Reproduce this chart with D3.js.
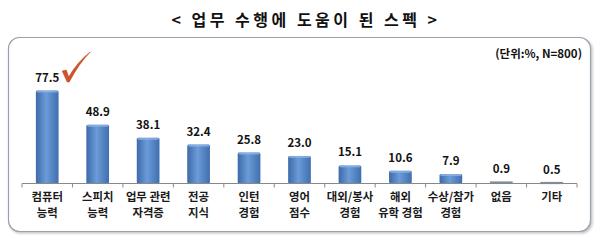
<!DOCTYPE html>
<html><head><meta charset="utf-8">
<script src="https://cdn.jsdelivr.net/npm/d3@7"></script>
<style>body{margin:0;background:#fff;}svg{display:block;}</style>
</head><body>
<svg id="c" width="600" height="244"></svg>
<script>
const categories = [["컴퓨터","능력"],["스피치","능력"],["업무 관련","자격증"],["전공","지식"],["인턴","경험"],["영어","점수"],["대외/봉사","경험"],["해외","유학 경험"],["수상/참가","경험"],["없음"],["기타"]];
const values = [77.5,48.9,38.1,32.4,25.8,23.0,15.1,10.6,7.9,0.9,0.5];
const title = "< 업무 수행에 도움이 된 스펙 >";
const unitNote = "(단위:%, N=800)";

const svg = d3.select("#c");
const font = "'Noto Sans CJK KR','Noto Sans',sans-serif";
const defs = svg.append("defs");
const g1 = defs.append("linearGradient").attr("id","barG").attr("x1","0").attr("x2","1").attr("y1","0").attr("y2","0");
g1.append("stop").attr("offset","0").attr("stop-color","#3d6aa8");
g1.append("stop").attr("offset","0.45").attr("stop-color","#6b9bd8");
g1.append("stop").attr("offset","1").attr("stop-color","#3f6fae");
const sh = defs.append("filter").attr("id","sh").attr("x","-5%").attr("y","-5%").attr("width","110%").attr("height","115%");
sh.append("feDropShadow").attr("dx",1.5).attr("dy",1.5).attr("stdDeviation",1.2).attr("flood-color","#888").attr("flood-opacity",0.5);

// panel
svg.append("rect").attr("x",8.5).attr("y",37.5).attr("width",582).attr("height",194).attr("rx",11)
  .attr("fill","#fff").attr("stroke","#9aa3ad").attr("stroke-width",1.2).attr("filter","url(#sh)");

svg.append("text").attr("x",306).attr("y",26).attr("text-anchor","middle").attr("letter-spacing",3.5)
  .attr("font-family",font).attr("font-weight","bold").attr("font-size",16).attr("fill","#111").text(title);
svg.append("text").attr("x",582).attr("y",58).attr("text-anchor","end")
  .attr("font-family",font).attr("font-weight","bold").attr("font-size",11.5).attr("fill","#111").text(unitNote);

const x = d3.scaleBand().domain(d3.range(values.length)).range([22,577]).paddingInner(0.55).paddingOuter(0.275);
const y = d3.scaleLinear().domain([0,80]).range([183.5,87.5]);

// bars
const bw = x.bandwidth();
values.forEach((v,i)=>{
  const h = y(0)-y(v);
  const bx = x(i);
  if (h < 3) {
    svg.append("rect").attr("x",bx).attr("y",y(v)-1).attr("width",bw).attr("height",Math.max(h,1.2)+1).attr("fill","#7f8c9c");
  } else {
    svg.append("rect").attr("x",bx).attr("y",y(v)).attr("width",bw).attr("height",h).attr("rx",1.5).attr("fill","url(#barG)");
    svg.append("rect").attr("x",bx+1).attr("y",y(v)).attr("width",bw-2).attr("height",2).attr("fill","#8fb4e3").attr("opacity",0.8);
  }
  svg.append("text").attr("x",bx+bw/2).attr("y",y(v)-9).attr("text-anchor","middle")
    .attr("font-family",font).attr("font-weight","bold").attr("font-size",11.5).attr("fill","#111").text(v.toFixed(1));
});

// axis
const axG = svg.append("g").attr("transform","translate(0,183.5)");
axG.append("line").attr("x1",22).attr("x2",577).attr("stroke","#888").attr("stroke-width",1);
const step = x.step();
d3.range(values.length+1).forEach(i=>{
  const tx = 22 + i*step;
  axG.append("line").attr("x1",tx).attr("x2",tx).attr("y1",0).attr("y2",4).attr("stroke","#888");
});

// category labels
categories.forEach((c,i)=>{
  c.forEach((line,j)=>{
    svg.append("text").attr("text-anchor","middle").attr("font-family",font).attr("font-weight","bold")
      .attr("font-size",11.4).attr("fill","#1a1a1a")
      .attr("x",x(i)+bw/2).attr("y",200.5+j*16.5).text(line);
  });
});

// check mark
const cx = x(0)+bw/2 + 3;
svg.append("path")
  .attr("d",`M${cx+12},71 L${cx+16},70 L${cx+18.5},77 Q${cx+27},62 ${cx+40},52 Q${cx+29},63 ${cx+19},82 L${cx+17},82 Z`)
  .attr("fill","#d0532a").attr("stroke","#c04a20").attr("stroke-width",0.6).attr("stroke-linejoin","round");
</script>
</body></html>
